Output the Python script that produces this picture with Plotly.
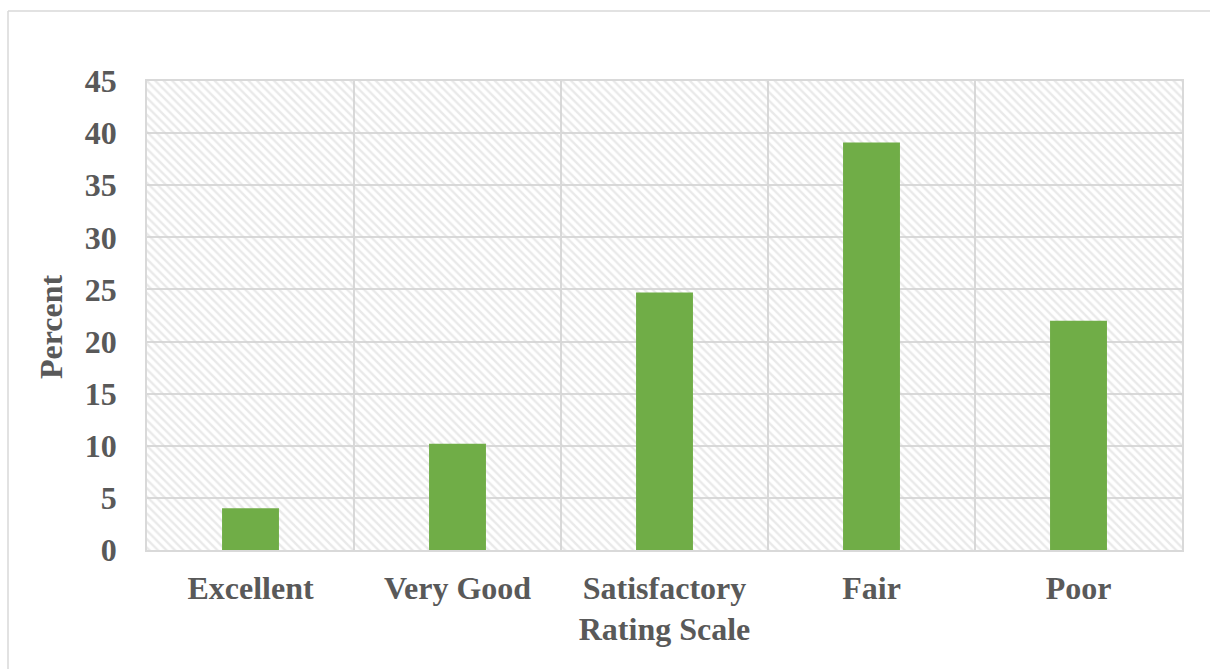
import plotly.graph_objects as go

# Survey results: share of respondents per rating
categories = ["Excellent", "Very Good", "Satisfactory", "Fair", "Poor"]
percent = [4.0, 10.2, 24.7, 39.1, 22.0]
y_ticks = [0, 5, 10, 15, 20, 25, 30, 35, 40, 45]
y_max = 45

TEXT = "#595959"
GRID = "#d9d9d9"
GREEN = "#70ad47"
FONT = "Liberation Serif"
SIZE = 32

fig = go.Figure()

# Hatched plot-area fill, one full-width band per category
fig.add_trace(go.Bar(
    x=categories, y=[y_max] * len(categories), width=1.0,
    marker=dict(color="rgba(0,0,0,0)", line=dict(width=0),
                pattern=dict(shape="\\", fgcolor="#d4d4d4", bgcolor="rgba(0,0,0,0)",
                             size=6, solidity=0.4)),
    hoverinfo="skip", showlegend=False,
))

fig.add_trace(go.Bar(
    x=categories, y=percent, width=0.275,
    marker=dict(color=GREEN, line=dict(width=0)),
    showlegend=False,
))

fig.update_layout(
    width=1210, height=669,
    margin=dict(l=147, r=28, t=81, b=119),
    paper_bgcolor="white", plot_bgcolor="white",
    barmode="overlay",
    font=dict(family=FONT, size=SIZE, color=TEXT),
    shapes=[
        dict(type="line", xref="paper", yref="paper", x0=-0.1343, x1=1.03,
             y0=1.1493, y1=1.1493, line=dict(color=GRID, width=1.5)),
        dict(type="line", xref="paper", yref="paper", x0=-0.1343, x1=-0.1343,
             y0=1.1493, y1=-0.26, line=dict(color=GRID, width=1.5)),
    ],
    annotations=[
        dict(text="<b>Percent</b>", textangle=-90, xref="paper", yref="paper",
             x=-0.092, y=0.477, xanchor="center", yanchor="middle", showarrow=False,
             font=dict(family=FONT, size=SIZE, color=TEXT)),
    ],
)

fig.update_xaxes(
    type="category", tickson="boundaries", ticks="",
    showgrid=True, gridcolor=GRID, gridwidth=1.5,
    showline=True, linecolor=GRID, linewidth=1.5, mirror=True,
    tickfont=dict(family=FONT, size=SIZE, color=TEXT, weight="bold"),
    ticklabelstandoff=9,
    title=dict(text="<b>Rating Scale</b>", standoff=12,
               font=dict(family=FONT, size=SIZE, color=TEXT)),
    range=[-0.5, 4.5],
)

fig.update_yaxes(
    range=[0, y_max], tickvals=y_ticks, ticks="",
    showgrid=True, gridcolor=GRID, gridwidth=1.5, zeroline=False,
    showline=True, linecolor=GRID, linewidth=1.5, mirror=True,
    tickfont=dict(family=FONT, size=SIZE, color=TEXT, weight="bold"),
    ticklabelstandoff=22,
)

fig.write_html("out.html")
